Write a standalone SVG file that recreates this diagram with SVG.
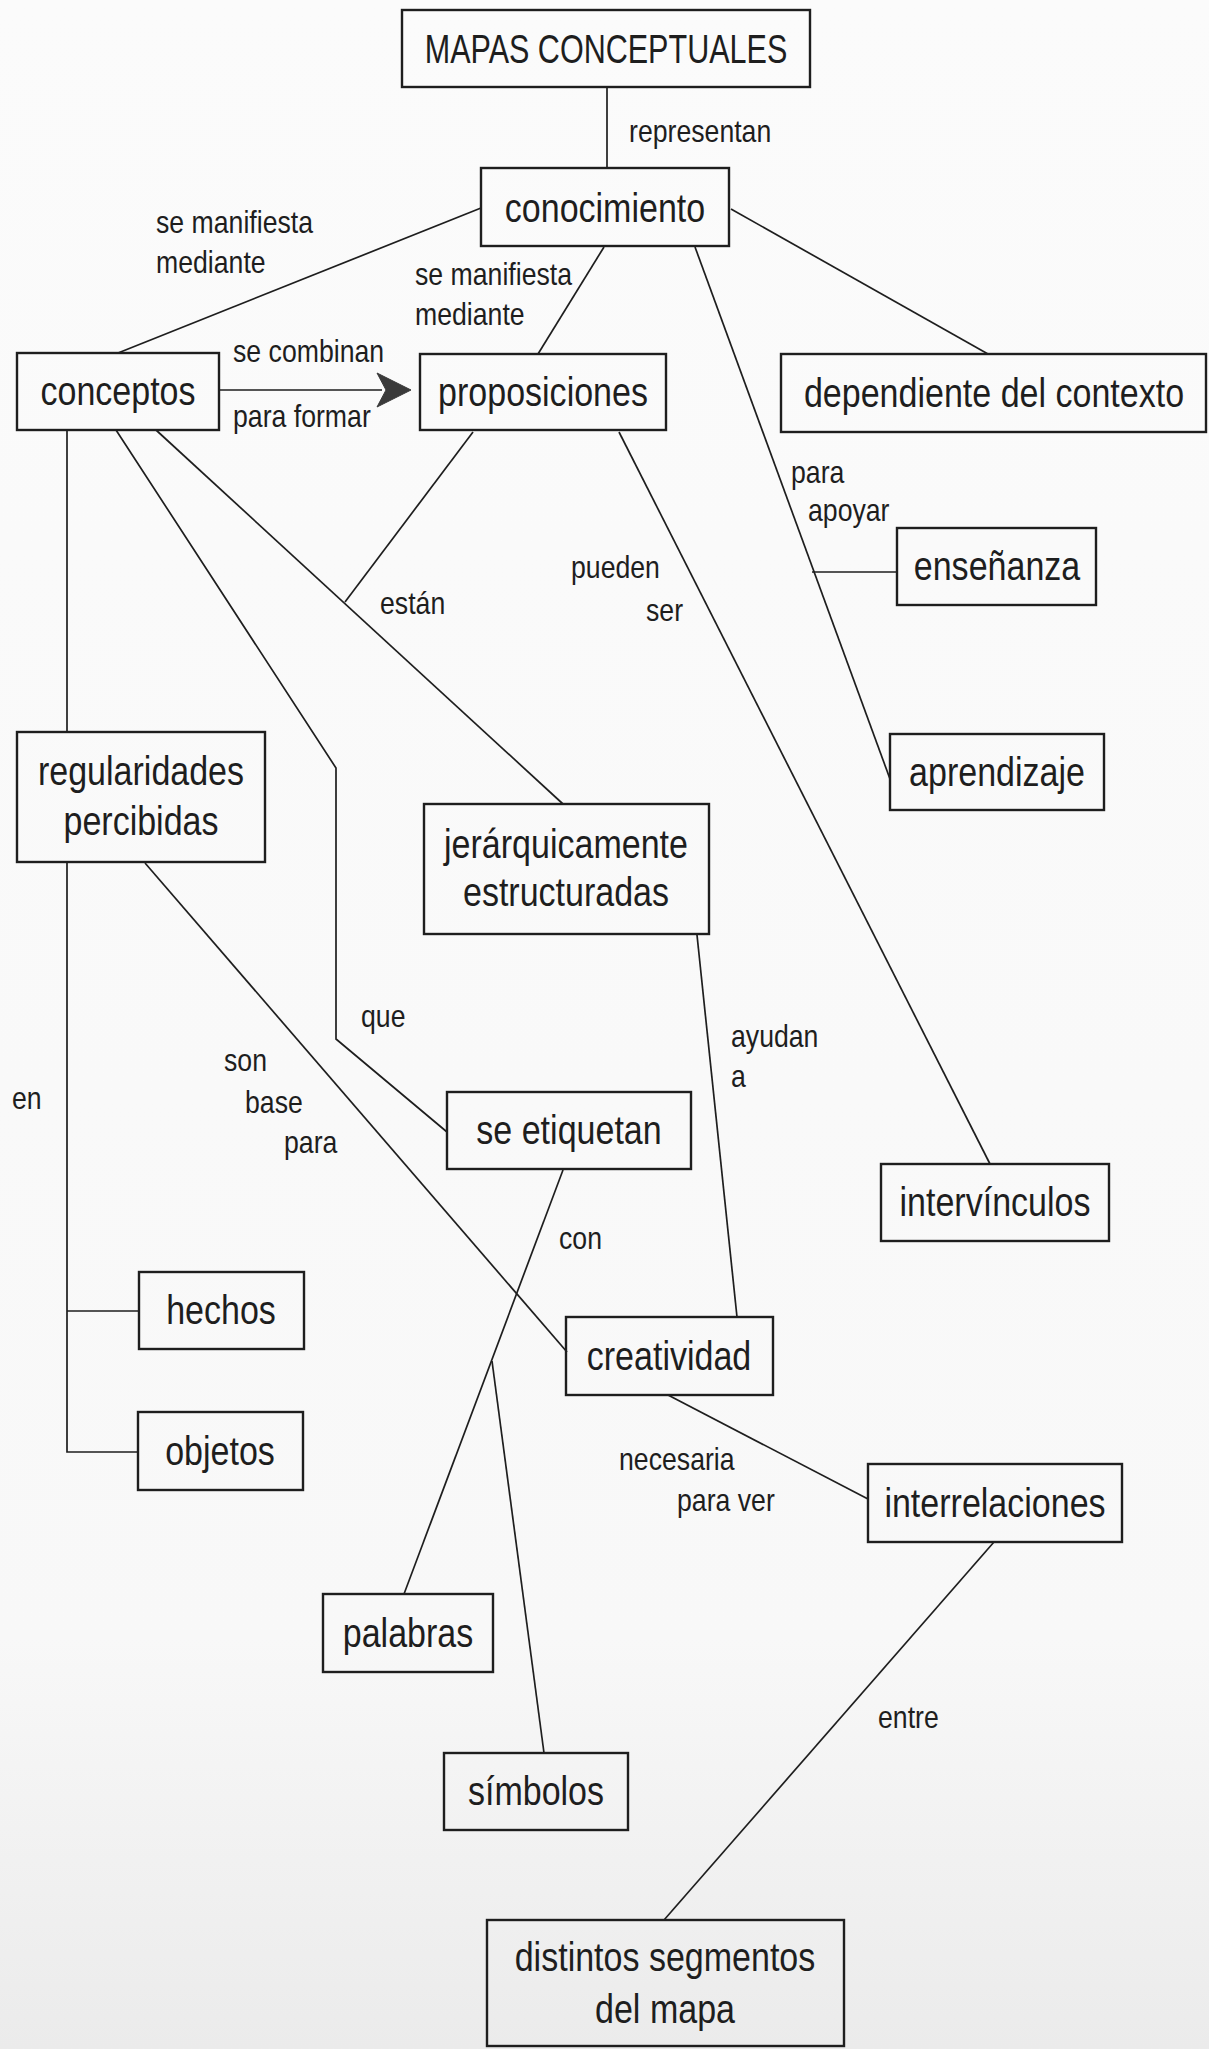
<svg xmlns="http://www.w3.org/2000/svg" width="1209" height="2049" viewBox="0 0 1209 2049">
<style>
.box{fill:none;stroke:#1e1e1e;stroke-width:2.4}
.nt{font-family:"Liberation Sans",Arial,sans-serif;font-size:41px;fill:#1e1e1e;text-anchor:middle}
.lt{font-family:"Liberation Sans",Arial,sans-serif;font-size:31px;fill:#1e1e1e}
.ln{fill:none;stroke:#1e1e1e;stroke-width:1.7;stroke-linejoin:miter}
</style>
<defs>
<linearGradient id="paper" x1="0" y1="0" x2="0" y2="1">
<stop offset="0" stop-color="#fbfbfb"/>
<stop offset="0.8" stop-color="#f8f8f8"/>
<stop offset="1" stop-color="#ebebeb"/>
</linearGradient>
</defs>
<rect x="0" y="0" width="1209" height="2049" fill="url(#paper)"/>

<g id="connectors">
<line class="ln" x1="607" y1="87" x2="607" y2="168"/>
<line class="ln" x1="481" y1="208" x2="118" y2="353"/>
<line class="ln" x1="604" y1="247" x2="538" y2="354"/>
<line class="ln" x1="731" y1="209" x2="988" y2="354"/>
<line class="ln" x1="695" y1="247" x2="890" y2="779"/>
<line class="ln" x1="812" y1="572" x2="897" y2="572"/>
<line class="ln" x1="219" y1="390" x2="382" y2="390"/>
<path d="M411,390 L377,373 L386,390 L377,407 Z" fill="#3a3a3a" stroke="#3a3a3a" stroke-width="1"/>
<line class="ln" x1="67" y1="430" x2="67" y2="732"/>
<polyline class="ln" points="67,862 67,1452 138,1452"/>
<line class="ln" x1="67" y1="1311" x2="139" y2="1311"/>
<polyline class="ln" points="116,430 336,768 336,1039 447,1132"/>
<line class="ln" x1="156" y1="430" x2="563" y2="804"/>
<line class="ln" x1="473" y1="432" x2="345" y2="602"/>
<line class="ln" x1="619" y1="432" x2="990" y2="1164"/>
<line class="ln" x1="697" y1="935" x2="737" y2="1317"/>
<line class="ln" x1="145" y1="863" x2="567" y2="1352"/>
<line class="ln" x1="563" y1="1170" x2="404" y2="1594"/>
<line class="ln" x1="492" y1="1361" x2="544" y2="1753"/>
<line class="ln" x1="668" y1="1395" x2="868" y2="1499"/>
<line class="ln" x1="994" y1="1542" x2="664" y2="1920"/>
</g>

<g id="labels">
<text class="lt" transform="matrix(0.86 0 0 1 629 142)">representan</text>
<text class="lt" transform="matrix(0.86 0 0 1 156 233)">se manifiesta</text>
<text class="lt" transform="matrix(0.86 0 0 1 156 273)">mediante</text>
<text class="lt" transform="matrix(0.86 0 0 1 415 285)">se manifiesta</text>
<text class="lt" transform="matrix(0.86 0 0 1 415 325)">mediante</text>
<text class="lt" transform="matrix(0.86 0 0 1 233 362)">se combinan</text>
<text class="lt" transform="matrix(0.86 0 0 1 233 427)">para formar</text>
<text class="lt" transform="matrix(0.86 0 0 1 791 483)">para</text>
<text class="lt" transform="matrix(0.86 0 0 1 808 521)">apoyar</text>
<text class="lt" transform="matrix(0.86 0 0 1 571 578)">pueden</text>
<text class="lt" transform="matrix(0.86 0 0 1 646 621)">ser</text>
<text class="lt" transform="matrix(0.86 0 0 1 380 614)">están</text>
<text class="lt" transform="matrix(0.86 0 0 1 361 1027)">que</text>
<text class="lt" transform="matrix(0.86 0 0 1 12 1109)">en</text>
<text class="lt" transform="matrix(0.86 0 0 1 224 1071)">son</text>
<text class="lt" transform="matrix(0.86 0 0 1 245 1113)">base</text>
<text class="lt" transform="matrix(0.86 0 0 1 284 1153)">para</text>
<text class="lt" transform="matrix(0.86 0 0 1 731 1047)">ayudan</text>
<text class="lt" transform="matrix(0.86 0 0 1 731 1087)">a</text>
<text class="lt" transform="matrix(0.86 0 0 1 559 1249)">con</text>
<text class="lt" transform="matrix(0.86 0 0 1 619 1470)">necesaria</text>
<text class="lt" transform="matrix(0.86 0 0 1 677 1511)">para ver</text>
<text class="lt" transform="matrix(0.86 0 0 1 878 1728)">entre</text>
</g>

<g id="n-mapas"><rect class="box" x="402" y="10" width="408" height="77"/><text class="nt" transform="matrix(0.745 0 0 1 606 63)">MAPAS CONCEPTUALES</text></g>
<g id="n-conocimiento"><rect class="box" x="481" y="168" width="248" height="78"/><text class="nt" transform="matrix(0.83 0 0 1 605 222)">conocimiento</text></g>
<g id="n-conceptos"><rect class="box" x="17" y="353" width="202" height="77"/><text class="nt" transform="matrix(0.83 0 0 1 118 405)">conceptos</text></g>
<g id="n-proposiciones"><rect class="box" x="420" y="354" width="246" height="76"/><text class="nt" transform="matrix(0.83 0 0 1 543 406)">proposiciones</text></g>
<g id="n-dependiente"><rect class="box" x="781" y="354" width="425" height="78"/><text class="nt" transform="matrix(0.83 0 0 1 994 407)">dependiente del contexto</text></g>
<g id="n-ensenanza"><rect class="box" x="897" y="528" width="199" height="77"/><text class="nt" transform="matrix(0.83 0 0 1 997 580)">enseñanza</text></g>
<g id="n-aprendizaje"><rect class="box" x="890" y="734" width="214" height="76"/><text class="nt" transform="matrix(0.83 0 0 1 997 786)">aprendizaje</text></g>
<g id="n-regularidades"><rect class="box" x="17" y="732" width="248" height="130"/><text class="nt" transform="matrix(0.83 0 0 1 141 785)">regularidades</text><text class="nt" transform="matrix(0.83 0 0 1 141 835)">percibidas</text></g>
<g id="n-jerarquicamente"><rect class="box" x="424" y="804" width="285" height="130"/><text class="nt" transform="matrix(0.83 0 0 1 566 858)">jerárquicamente</text><text class="nt" transform="matrix(0.83 0 0 1 566 906)">estructuradas</text></g>
<g id="n-seetiquetan"><rect class="box" x="447" y="1092" width="244" height="77"/><text class="nt" transform="matrix(0.83 0 0 1 569 1144)">se etiquetan</text></g>
<g id="n-intervinculos"><rect class="box" x="881" y="1164" width="228" height="77"/><text class="nt" transform="matrix(0.83 0 0 1 995 1216)">intervínculos</text></g>
<g id="n-hechos"><rect class="box" x="139" y="1272" width="165" height="77"/><text class="nt" transform="matrix(0.83 0 0 1 221 1324)">hechos</text></g>
<g id="n-creatividad"><rect class="box" x="566" y="1317" width="207" height="78"/><text class="nt" transform="matrix(0.83 0 0 1 669 1370)">creatividad</text></g>
<g id="n-objetos"><rect class="box" x="138" y="1412" width="165" height="78"/><text class="nt" transform="matrix(0.83 0 0 1 220 1465)">objetos</text></g>
<g id="n-interrelaciones"><rect class="box" x="868" y="1464" width="254" height="78"/><text class="nt" transform="matrix(0.83 0 0 1 995 1517)">interrelaciones</text></g>
<g id="n-palabras"><rect class="box" x="323" y="1594" width="170" height="78"/><text class="nt" transform="matrix(0.83 0 0 1 408 1647)">palabras</text></g>
<g id="n-simbolos"><rect class="box" x="444" y="1753" width="184" height="77"/><text class="nt" transform="matrix(0.83 0 0 1 536 1805)">símbolos</text></g>
<g id="n-distintos"><rect class="box" x="487" y="1920" width="357" height="126"/><text class="nt" transform="matrix(0.83 0 0 1 665 1971)">distintos segmentos</text><text class="nt" transform="matrix(0.83 0 0 1 665 2023)">del mapa</text></g>
</svg>
